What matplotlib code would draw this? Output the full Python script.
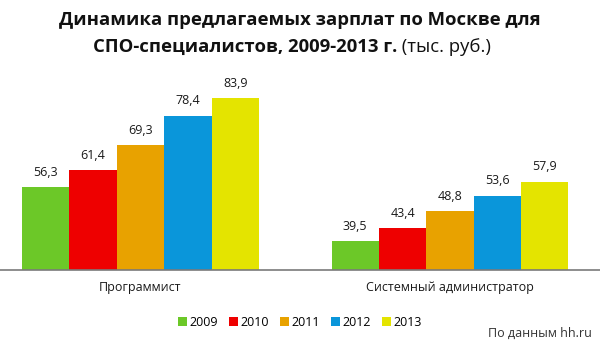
import matplotlib
matplotlib.use('Agg')
import matplotlib.pyplot as plt
import numpy as np

plt.rcParams['font.family'] = ['Open Sans', 'DejaVu Sans']

# Данные
categories = ['Программист', 'Системный администратор']
years = ['2009', '2010', '2011', '2012', '2013']
values = {
    '2009': [56.3, 39.5],
    '2010': [61.4, 43.4],
    '2011': [69.3, 48.8],
    '2012': [78.4, 53.6],
    '2013': [83.9, 57.9],
}
colors = ['#6cc828', '#ee0000', '#e8a200', '#0a96da', '#e4e400']

fig = plt.figure(figsize=(6, 3.46), dpi=100)
ax = fig.add_axes([0, 76 / 346, 1, 200 / 346])

x = np.arange(len(categories))
w = 0.153
for i, ano in enumerate(years):
    pos = x + (i - 2) * w
    ax.bar(pos, values[ano], w, bottom=0, color=colors[i], label=ano)
    for xb, v in zip(pos, values[ano]):
        ax.text(xb, v + 2.6, f"{v:.1f}".replace('.', ','), ha='center', va='bottom',
                fontsize=9, color='#1a1a1a')

ax.set_xlim(-0.454, 1.485)
ax.set_ylim(30.5, 92.6)
for s in ['top', 'right', 'left']:
    ax.spines[s].set_visible(False)
ax.spines['bottom'].set_color('#7a7a7a')
ax.spines['bottom'].set_linewidth(1.2)
ax.set_yticks([])
ax.set_xticks(x)
ax.set_xticklabels(categories, fontsize=9, color='#1a1a1a')
ax.tick_params(axis='x', length=0, pad=8)

# Заголовок
fig.text(0.5, 1 - 20 / 346, 'Динамика предлагаемых зарплат по Москве для',
         ha='center', va='center', fontsize=13.3, fontweight='bold', color='#111111')
t1 = fig.text(93 / 600, 1 - 47 / 346, 'СПО-специалистов, 2009-2013 г.',
              ha='left', va='center', fontsize=13.3, fontweight='bold', color='#111111')
ax.annotate(' (тыс. руб.)', xy=(1, 0.5), xycoords=t1, ha='left', va='center',
            fontsize=13.3, color='#111111')

fig.legend(loc='center', bbox_to_anchor=(0.5, 1 - 322 / 346), ncol=5, frameon=False,
           fontsize=9, handlelength=0.7, handleheight=0.7, handletextpad=0.2,
           columnspacing=0.9)

fig.text(592 / 600, 1 - 333 / 346, 'По данным hh.ru', ha='right', va='center',
         fontsize=9, color='#333333')

plt.savefig('out.png', dpi=100)
plt.close(fig)
